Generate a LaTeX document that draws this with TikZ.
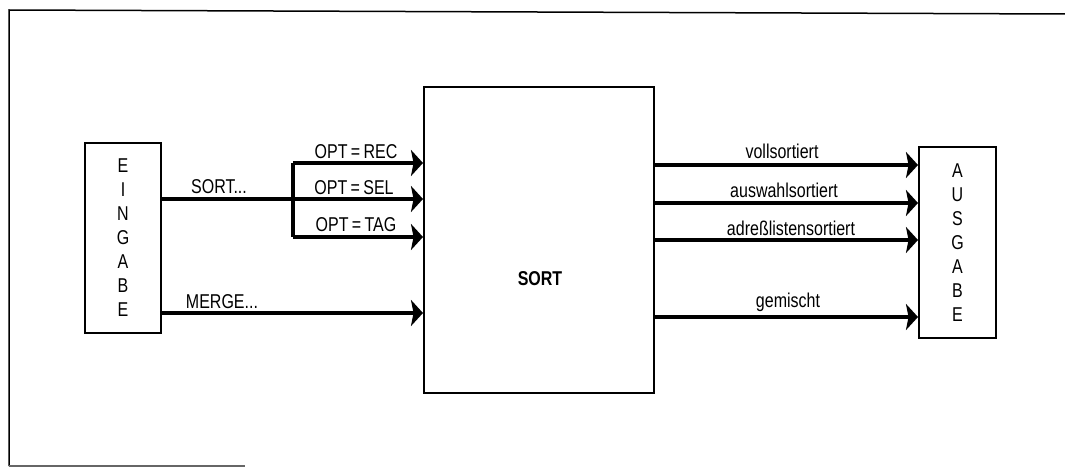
\documentclass[tikz,border=0pt]{standalone}
\usepackage{fontspec}
\setmainfont{Liberation Sans}[FakeStretch=0.8]
\usetikzlibrary{arrows.meta}
\tikzset{
  box/.style={draw, line width=2pt, inner sep=0pt, align=center, font=\fontsize{20}{24}\selectfont},
  arr/.style={line width=3.6pt, -{Stealth[length=12pt,width=26pt,inset=2.5pt]}},
  bar/.style={line width=3.6pt},
  lbl/.style={inner sep=0pt, font=\fontsize{20}{22}\selectfont},
  frame/.style={line width=1.5pt}
}
\begin{document}
\begin{tikzpicture}[x=1pt,y=-1pt]
\useasboundingbox (0,0) rectangle (1065,468);
\fill[white] (0,0) rectangle (1065,468);
% frame
\coordinate (f1) at (9,10);
\coordinate (f2) at (1065,14);
\coordinate (f3) at (9,466);
\coordinate (f4) at (245,466);
\draw[frame] (f2) -- (f1) -- (f3);
\draw[frame, black!60] (f3) -- (f4);
% boxes
\node[box, minimum width=76pt, minimum height=190pt] (ein) at (123,238) {E\\I\\N\\G\\A\\B\\E};
\node[box, minimum width=77pt, minimum height=191pt] (aus) at (957.5,242.5) {A\\U\\S\\G\\A\\B\\E};
\node[draw, line width=2pt, minimum width=230pt, minimum height=306pt, inner sep=0pt] (sort) at (539,240) {};
\node[font=\fontsize{20}{22}\selectfont\bfseries, inner sep=0pt] (sorttxt) at (540,279) {SORT};
% left connectors
\coordinate (j) at (293,199);
\coordinate (jt) at (293,163);
\coordinate (jb) at (293,237);
\coordinate (m) at (161,313);
\draw[bar] (ein.east |- j) -- (j);
\draw[bar] (jt) -- (jb);
\draw[arr] (jt) -- (sort.west |- jt);
\draw[arr] (j) -- (sort.west |- j);
\draw[arr] (jb) -- (sort.west |- jb);
\draw[arr] (ein.east |- m) -- (sort.west |- m);
\node[lbl] (lsort) at (219,187) {SORT...};
\node[lbl] (lrec) at (356,152) {OPT\,=\,REC};
\node[lbl] (lsel) at (354,188) {OPT\,=\,SEL};
\node[lbl] (ltag) at (356,225) {OPT\,=\,TAG};
\node[lbl] (lmerge) at (222,302) {MERGE...};
% right connectors
\coordinate (r1) at (654,165);
\coordinate (r2) at (654,203);
\coordinate (r3) at (654,240);
\coordinate (r4) at (654,317);
\draw[arr] (r1) -- (aus.west |- r1);
\draw[arr] (r2) -- (aus.west |- r2);
\draw[arr] (r3) -- (aus.west |- r3);
\draw[arr] (r4) -- (aus.west |- r4);
\node[lbl] (lv) at (782,151) {vollsortiert};
\node[lbl] (la) at (784,190) {auswahlsortiert};
\node[lbl] (lad) at (791,228) {adreßlistensortiert};
\node[lbl] (lg) at (788,302) {gemischt};
\end{tikzpicture}
\end{document}
